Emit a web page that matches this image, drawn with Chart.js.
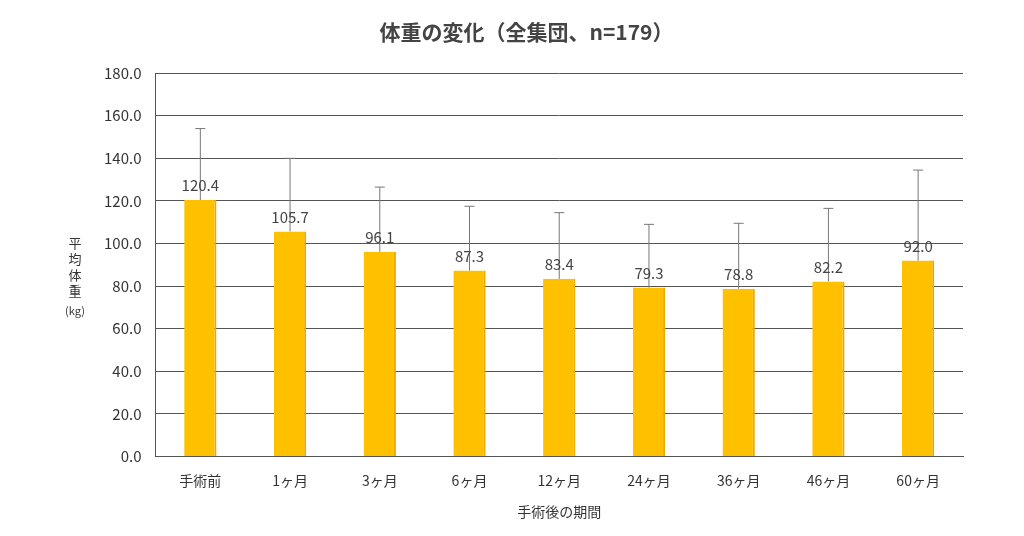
<!DOCTYPE html>
<html>
<head>
<meta charset="utf-8">
<script src="https://cdn.jsdelivr.net/npm/chart.js@4"></script>
<style>
  body { margin: 0; background: #fff; }
  #wrap { width: 1024px; height: 536px; }
</style>
</head>
<body>
<div id="wrap"><canvas id="chartWeight"></canvas></div>
<script>
const categories = ['手術前', '1ヶ月', '3ヶ月', '6ヶ月', '12ヶ月', '24ヶ月', '36ヶ月', '46ヶ月', '60ヶ月'];
const meanWeight = [120.4, 105.7, 96.1, 87.3, 83.4, 79.3, 78.8, 82.2, 92.0];
const upperError = [154.0, 140.0, 126.5, 117.5, 114.5, 109.0, 109.5, 116.5, 134.5];
const yTicks = [0, 20, 40, 60, 80, 100, 120, 140, 160, 180];

const FONT = "'Noto Sans CJK JP', 'Noto Sans', sans-serif";

// error whiskers, value labels and the stacked y title
const extras = {
  id: 'extras',
  afterDatasetsDraw(chart) {
    const ctx = chart.ctx;
    const x = chart.scales.x, y = chart.scales.y;
    ctx.save();
    ctx.strokeStyle = '#777';
    ctx.lineWidth = 1;
    meanWeight.forEach((v, i) => {
      const px = x.getPixelForValue(i);
      const top = y.getPixelForValue(upperError[i]);
      ctx.beginPath();
      ctx.moveTo(px, y.getPixelForValue(v));
      ctx.lineTo(px, top);
      ctx.moveTo(px - 5, top);
      ctx.lineTo(px + 5, top);
      ctx.stroke();
    });
    ctx.fillStyle = '#444';
    ctx.font = '15px ' + FONT;
    ctx.textAlign = 'center';
    ctx.textBaseline = 'bottom';
    meanWeight.forEach((v, i) => {
      ctx.fillText(v.toFixed(1), x.getPixelForValue(i), y.getPixelForValue(v) - 7);
    });
    ctx.font = '13px ' + FONT;
    ctx.fillStyle = '#333';
    ctx.textBaseline = 'middle';
    ['平', '均', '体', '重'].forEach((c, k) => ctx.fillText(c, 75, 243 + k * 16));
    ctx.font = '11px ' + FONT;
    ctx.fillText('(kg)', 75, 311);
    ctx.restore();
  }
};

new Chart(document.getElementById('chartWeight'), {
  type: 'bar',
  data: {
    labels: categories,
    datasets: [{
      data: meanWeight,
      backgroundColor: '#FFC000',
      borderColor: '#E8A900',
      borderWidth: { right: 2, top: 0, left: 0, bottom: 0 },
      borderSkipped: false,
      barPercentage: 0.4,
      categoryPercentage: 0.9
    }]
  },
  options: {
    responsive: true,
    maintainAspectRatio: false,
    animation: false,
    layout: { padding: { left: 90, right: 61, top: 5, bottom: 12 } },
    plugins: {
      legend: { display: false },
      tooltip: { enabled: false },
      title: {
        display: true,
        text: '体重の変化（全集団、n=179）',
        color: '#444',
        font: { family: FONT, size: 21, weight: 'bold' },
        padding: { top: 14, bottom: 29 }
      }
    },
    scales: {
      x: {
        grid: { display: false },
        border: { color: '#555' },
        ticks: { color: '#333', font: { family: FONT, size: 14 }, padding: 8 },
        title: {
          display: true,
          text: '手術後の期間',
          color: '#333',
          font: { family: FONT, size: 14 },
          padding: { top: 6 }
        }
      },
      y: {
        min: 0,
        max: 180,
        afterBuildTicks(axis) { axis.ticks = yTicks.map(v => ({ value: v })); },
        grid: { color: '#555', drawTicks: false },
        border: { color: '#555' },
        ticks: {
          color: '#333',
          font: { family: FONT, size: 15 },
          padding: 14,
          callback: v => v.toFixed(1)
        }
      }
    }
  },
  plugins: [extras]
});
</script>
</body>
</html>
